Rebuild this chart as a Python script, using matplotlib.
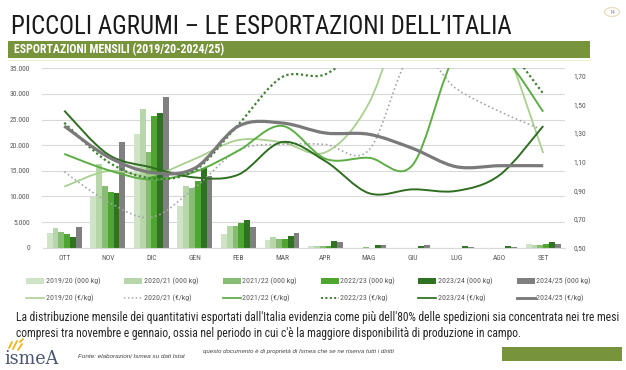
import numpy as np
import matplotlib
matplotlib.use("Agg")
import matplotlib.pyplot as plt
import matplotlib.font_manager as fm
from matplotlib.path import Path
from matplotlib.patches import PathPatch, Rectangle, Circle
from matplotlib.lines import Line2D

# ---------------- data ----------------
months = ['OTT', 'NOV', 'DIC', 'GEN', 'FEB', 'MAR', 'APR', 'MAG', 'GIU', 'LUG', 'AGO', 'SET']
seasons = ['2019/20', '2020/21', '2021/22', '2022/23', '2023/24', '2024/25']

kg_1920 = [2800, 9950, 22230, 8130, 2670, 1500, 250, 0, 0, 0, 0, 650]
kg_2021 = [3750, 16360, 27050, 12040, 4230, 2030, 260, 0, 0, 0, 0, 450]
kg_2122 = [2990, 11950, 18580, 11650, 4300, 1690, 250, 200, 0, 0, 0, 520]
kg_2223 = [2620, 10930, 25620, 12950, 4740, 1690, 300, 0, 0, 0, 0, 650]
kg_2324 = [2170, 10610, 26270, 15510, 5400, 2280, 1300, 520, 330, 260, 260, 1170]
kg_2425 = [3970, 20670, 29400, 13900, 4100, 2870, 1050, 520, 450, 130, 100, 780]

eur_1920 = [0.926, 1.035, 1.005, 1.120, 1.251, 1.235, 1.166, 1.510, 2.300, 2.450, 2.000, 1.160]
eur_2021 = [1.030, 0.821, 0.712, 0.920, 1.180, 1.222, 1.220, 1.182, 1.860, 1.610, 1.450, 1.320]
eur_2122 = [1.154, 1.042, 0.975, 1.030, 1.177, 1.350, 1.120, 1.127, 1.077, 1.850, 1.850, 1.449]
eur_2223 = [1.372, 1.100, 0.984, 1.040, 1.360, 1.690, 1.710, 1.950, 2.100, 2.100, 1.950, 1.575]
eur_2324 = [1.456, 1.152, 1.060, 0.990, 1.010, 1.237, 1.103, 0.880, 0.907, 0.896, 1.007, 1.349]
eur_2425 = [1.349, 1.135, 1.025, 1.055, 1.348, 1.370, 1.300, 1.291, 1.193, 1.065, 1.072, 1.072]

left_ticks = [0, 5000, 10000, 15000, 20000, 25000, 30000, 35000]
left_labels = ['0', '5.000', '10.000', '15.000', '20.000', '25.000', '30.000', '35.000']
right_ticks = [0.50, 0.70, 0.90, 1.10, 1.30, 1.50, 1.70]
right_labels = ['0,50', '0,70', '0,90', '1,10', '1,30', '1,50', '1,70']

kg_series = [kg_1920, kg_2021, kg_2122, kg_2223, kg_2324, kg_2425]
eur_series = [eur_1920, eur_2021, eur_2122, eur_2223, eur_2324, eur_2425]

# ---------------- styles ----------------
bar_colors = ['#cfe3c7', '#b7d7aa', '#86bd72', '#4ea52f', '#2f7322', '#808080']
line_colors = ['#a9d08e', '#a6a6a6', '#5cae45', '#3f7f32', '#2f6e21', '#7a7a7a']
line_styles = ['-', (0, (1, 1.6)), '-', (0, (1, 1.2)), '-', '-']
line_widths = [1.3, 1.2, 1.4, 1.6, 1.4, 2.3]


def is_regular(f, bold=False):
    w = f.weight if isinstance(f.weight, int) else {'normal': 400, 'regular': 400, 'bold': 700}.get(str(f.weight), 400)
    return f.style == 'normal' and ((w >= 600) if bold else (350 <= w <= 500))


def find_narrow(bold=False):
    tl = fm.fontManager.ttflist
    prefs = ['Liberation Sans Narrow', 'Arial Narrow', 'Roboto Condensed', 'Open Sans Condensed',
             'Noto Sans Condensed', 'DejaVu Sans Condensed']
    for p in prefs:
        for f in tl:
            if f.name == p and is_regular(f, bold):
                return f.fname
    for f in tl:
        if f.stretch in ('condensed', 'semi-condensed', 'extra-condensed') and is_regular(f, bold) \
                and 'Mono' not in f.fname and 'Serif' not in f.fname:
            return f.fname
    for f in tl:
        n = f.fname
        if ('Condensed' in n or 'Narrow' in n) and 'Italic' not in n and 'Mono' not in n \
                and (('Bold' in n) == bold) and 'Light' not in n and 'Serif' not in n:
            return n
    return None


p_reg = find_narrow(False)
p_bold = find_narrow(True)
FP = fm.FontProperties(fname=p_reg) if p_reg else fm.FontProperties(family='Liberation Sans')
FPB = fm.FontProperties(fname=p_bold) if p_bold else fm.FontProperties(family='Liberation Sans', weight='bold')

W, H = 626, 370
fig = plt.figure(figsize=(W / 100, H / 100), dpi=100)
R = fig.canvas.get_renderer()


def fx(px):
    return px / W


def fy(py):
    return 1 - py / H


def fit(t, target_px):
    w = t.get_window_extent(R).width
    t.set_fontsize(t.get_fontsize() * target_px / w)
    return t


def size_for(text, target_px, fp):
    t = fig.text(0, 0, text, fontproperties=fp, fontsize=10)
    w = t.get_window_extent(R).width
    t.remove()
    return 10 * target_px / w


# title
t = fig.text(fx(11), fy(34), 'PICCOLI AGRUMI \u2013 LE ESPORTAZIONI DELL\u2019ITALIA',
             fontproperties=FP, fontsize=25, color='#1a1a1a', ha='left', va='baseline')
fit(t, 500)
# page number circle
fig.add_artist(Circle((fx(612), fy(12)), 7.5 / W, transform=fig.transFigure,
                      facecolor='white', edgecolor='#eadfc4', lw=1.0))
fig.text(fx(612), fy(12.5), '14', fontsize=4.2, color='#8c8c8c', ha='center', va='center',
         fontproperties=FP)

# green band
fig.add_artist(Rectangle((fx(8), fy(58)), fx(590) - fx(8), (58 - 41) / H,
                         transform=fig.transFigure, facecolor='#77933c', edgecolor='none'))
t = fig.text(fx(14), fy(49.5), 'ESPORTAZIONI MENSILI (2019/20-2024/25)', fontproperties=FPB,
             fontsize=8.5, color='white', ha='left', va='center')
fit(t, 210)
fig.add_artist(Line2D([fx(8), fx(590)], [fy(60), fy(60)], transform=fig.transFigure,
                      color='#eef3d6', lw=1))

# ---------------- chart ----------------
ax = fig.add_axes([fx(42.5), fy(247.7), fx(565) - fx(42.5), (247.7 - 68.3) / H])
x = np.arange(len(months))
nb = len(seasons)
group = 0.8
bw = group / nb
for i, (vals, c) in enumerate(zip(kg_series, bar_colors)):
    ax.bar(x - group / 2 + bw * (i + 0.5), vals, width=bw, color=c, zorder=2, linewidth=0)

tick_size = size_for('35.000', 20.5, FP)
ax.set_xlim(-0.5, len(months) - 0.5)
ax.set_ylim(0, 35000)
ax.set_yticks(left_ticks)
ax.set_yticklabels(left_labels)
ax.set_xticks(x)
ax.set_xticklabels(months)
ax.grid(axis='y', color='#d9d9d9', lw=0.8, zorder=0)
ax.set_axisbelow(True)
for s in ax.spines.values():
    s.set_visible(False)
ax.spines['bottom'].set_visible(True)
ax.spines['bottom'].set_color('#d9d9d9')
ax.tick_params(axis='both', length=0, labelcolor='#595959')
ax.tick_params(axis='y', pad=9)
ax.tick_params(axis='x', pad=5)
for lab in ax.get_xticklabels() + ax.get_yticklabels():
    lab.set_fontproperties(FP)
    lab.set_fontsize(tick_size)

ax2 = ax.twinx()
ax2.set_ylim(0.5, 1.7516)
ax2.set_yticks(right_ticks)
ax2.set_yticklabels(right_labels)
for s in ax2.spines.values():
    s.set_visible(False)
ax2.tick_params(axis='y', length=0, labelcolor='#595959', pad=6)
for lab in ax2.get_yticklabels():
    lab.set_fontproperties(FP)
    lab.set_fontsize(tick_size)


def smooth_path(xs, ys):
    n = len(xs)
    pts = list(zip(xs, ys))
    verts = [pts[0]]
    codes = [Path.MOVETO]
    for i in range(n - 1):
        p0 = pts[i - 1] if i > 0 else pts[i]
        p1 = pts[i]
        p2 = pts[i + 1]
        p3 = pts[i + 2] if i + 2 < n else pts[i + 1]
        c1 = (p1[0] + (p2[0] - p0[0]) / 6, p1[1] + (p2[1] - p0[1]) / 6)
        c2 = (p2[0] - (p3[0] - p1[0]) / 6, p2[1] - (p3[1] - p1[1]) / 6)
        verts += [c1, c2, p2]
        codes += [Path.CURVE4] * 3
    return Path(verts, codes)


for vals, c, ls, lw in zip(eur_series, line_colors, line_styles, line_widths):
    patch = PathPatch(smooth_path(x, vals), fill=False, edgecolor=c, lw=lw,
                      linestyle=ls, capstyle='butt', zorder=3)
    ax2.add_patch(patch)

# ---------------- legend (manual) ----------------
leg_size = size_for('2019/20 (000 kg)', 53, FP)
col_x = [26, 124, 222.5, 321, 418, 517]
for i, s in enumerate(seasons):
    cx = col_x[i]
    fig.add_artist(Rectangle((fx(cx), fy(283.5)), fx(18), 5.5 / H, transform=fig.transFigure,
                             facecolor=bar_colors[i], edgecolor='none'))
    fig.text(fx(cx + 19.5), fy(281), f'{s} (000 kg)', fontproperties=FP, fontsize=leg_size,
             color='#595959', ha='left', va='center')
    fig.add_artist(Line2D([fx(cx), fx(cx + 18)], [fy(298), fy(298)], transform=fig.transFigure,
                          color=line_colors[i], lw=line_widths[i] * 0.9, linestyle=line_styles[i]))
    fig.text(fx(cx + 19.5), fy(298), f'{s} (\u20ac/kg)', fontproperties=FP, fontsize=leg_size,
             color='#595959', ha='left', va='center')

# ---------------- paragraph ----------------
t1 = fig.text(fx(16), fy(318), "La distribuzione mensile dei quantitativi esportati dall'Italia evidenzia come "
              "più dell'80% delle spedizioni sia concentrata nei tre mesi",
              fontproperties=FP, fontsize=9.5, color='#262626', ha='left', va='center')
fit(t1, 606)
fig.text(fx(16), fy(334), "compresi tra novembre e gennaio, ossia nel periodo in cui c'è la maggiore "
         "disponibilità di produzione in campo.",
         fontproperties=FP, fontsize=t1.get_fontsize(), color='#262626', ha='left', va='center')

# ---------------- footer ----------------
for (x0, y0, x1, y1) in [(9, 348, 12, 342), (13, 349, 17, 341), (18, 350, 22, 344), (20, 342, 23, 339)]:
    fig.add_artist(Line2D([fx(x0), fx(x1)], [fy(y0), fy(y1)], transform=fig.transFigure,
                          color='#f2b21b', lw=1.3, solid_capstyle='round'))
t = fig.text(fx(4), fy(364), 'ismeA', fontsize=15, color='#4a5670', family='DejaVu Serif',
             ha='left', va='baseline')
fit(t, 55)
t = fig.text(fx(78), fy(357), 'Fonte: elaborazioni Ismea su dati Istat', fontsize=5.3,
             style='italic', color='#404040', ha='left', va='center', family='Liberation Sans')
fit(t, 107)
t = fig.text(fx(203), fy(352), 'questo documento è di proprietà di Ismea che se ne riserva tutti i diritti',
             fontsize=4.3, style='italic', color='#404040', ha='left', va='center', family='Liberation Sans')
fit(t, 193)
fig.add_artist(Rectangle((fx(502), fy(361)), fx(120), 14 / H, transform=fig.transFigure,
                         facecolor='#77933c', edgecolor='none'))

fig.savefig('out.png', dpi=100)
